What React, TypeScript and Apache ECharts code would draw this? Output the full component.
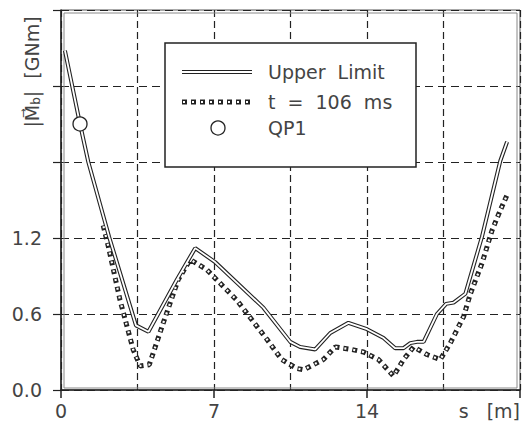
import React, { useEffect, useRef } from "react";
import * as echarts from "echarts";

// Upper limit curve (s in m, |Mb| in GNm)
const upperS = [0.18, 0.87, 1.25, 2.2, 3.43, 4.0, 5.3, 6.14, 7.05, 9.26, 10.49, 10.94, 11.63, 12.32, 13.15, 14.0, 14.76, 15.29, 15.67, 15.98, 16.29, 16.59, 17.2, 17.62, 17.96, 18.5, 19.26, 20.1, 20.41];
const upperM = [2.68, 2.1, 1.8, 1.21, 0.51, 0.46, 0.87, 1.12, 1.01, 0.65, 0.38, 0.34, 0.32, 0.45, 0.53, 0.48, 0.41, 0.33, 0.33, 0.37, 0.38, 0.38, 0.6, 0.68, 0.69, 0.76, 1.21, 1.81, 1.96];

// t = 106 ms curve
const t106S = [1.93, 2.17, 2.7, 3.3, 3.62, 4.04, 4.68, 5.36, 5.91, 6.67, 8.04, 9.42, 10.1, 10.79, 11.1, 12.0, 12.55, 13.3, 13.84, 14.53, 15.21, 15.67, 16.13, 16.74, 17.35, 17.81, 18.42, 18.73, 19.26, 19.72, 20.1, 20.41];
const t106M = [1.3, 1.13, 0.71, 0.32, 0.19, 0.2, 0.53, 0.87, 1.03, 0.95, 0.71, 0.4, 0.24, 0.17, 0.16, 0.24, 0.34, 0.32, 0.3, 0.24, 0.11, 0.24, 0.34, 0.28, 0.24, 0.37, 0.58, 0.76, 1.0, 1.26, 1.42, 1.54];

// QP1 point
const qp1S = [0.87];
const qp1M = [2.1];

const legendNames = ["Upper  Limit", "t  =  106  ms", "QP1"];
const xTickLabels = ["0", "7", "14"];
const yMax = 3.0;
const xMax = 21;

const INK = "#222";
const TXT = "#444";
const FONT = "DejaVu Sans";

export default function App() {
  const ref = useRef<HTMLDivElement>(null);
  useEffect(() => {
    if (!ref.current) return;
    const chart = echarts.init(ref.current, undefined, { renderer: "svg" });
    const upper = upperS.map((s, i) => [s, upperM[i]]);
    const t106 = t106S.map((s, i) => [s, t106M[i]]);
    const qp1 = qp1S.map((s, i) => [s, qp1M[i]]);
    const option: any = {
      animation: false,
      backgroundColor: "#fff",
      grid: { left: 61, right: 5, top: 10, bottom: 43, show: true, borderColor: "#555", borderWidth: 1 },
      xAxis: [
        {
          type: "value", min: 0, max: xMax, interval: 3.5,
          axisLine: { show: true, lineStyle: { color: INK, width: 1.5 } },
          axisTick: { show: false },
          axisLabel: { show: false },
          splitLine: { show: true, lineStyle: { color: INK, width: 1.2, type: [7, 4] } },
        },
        {
          type: "value", min: 0, max: xMax, interval: 7, position: "bottom",
          axisLine: { show: false },
          axisTick: { show: true, length: 8, lineStyle: { color: INK, width: 1.5 } },
          axisLabel: {
            margin: 11, fontSize: 19, fontFamily: FONT, color: TXT,
            formatter: (v: number) => (xTickLabels.includes(String(v)) ? String(v) : ""),
          },
          splitLine: { show: false },
        },
      ],
      yAxis: {
        type: "value", min: 0, max: yMax, interval: 0.6,
        axisLine: { show: true, lineStyle: { color: INK, width: 1.5 } },
        axisTick: { show: true, length: 8, lineStyle: { color: INK, width: 1.2 } },
        axisLabel: {
          margin: 19, fontSize: 19, fontFamily: FONT, color: TXT,
          formatter: (v: number) => (v <= 1.21 ? v.toFixed(1) : ""),
        },
        splitLine: { show: true, lineStyle: { color: INK, width: 1.2, type: [8, 5] } },
      },
      series: [
        {
          name: "Upper Limit", type: "line", data: upper, symbol: "none", z: 3,
          lineStyle: { color: INK, width: 4 },
        },
        {
          name: "Upper Limit inner", type: "line", data: upper, symbol: "none", z: 4,
          lineStyle: { color: "#fff", width: 1.8 },
        },
        {
          name: "t = 106 ms", type: "line", data: t106, symbol: "none", z: 3,
          lineStyle: { color: INK, width: 5, type: [5, 4], cap: "butt" },
        },
        {
          name: "t = 106 ms inner", type: "line", data: t106, symbol: "none", z: 4,
          lineStyle: { color: "#fff", width: 2.2, type: [2, 7], dashOffset: 7.5, cap: "butt" },
        },
        {
          name: "QP1", type: "scatter", data: qp1, symbol: "circle", symbolSize: 14, z: 6,
          itemStyle: { color: "#fff", borderColor: INK, borderWidth: 1.3, opacity: 1 },
        },
      ],
      graphic: [
        { type: "rect", silent: true, z: 1, shape: { x: 64, y: 13, width: 453, height: 375 }, style: { fill: "none", stroke: "#888", lineWidth: 1 } },
        { type: "rect", z: 100, shape: { x: 165, y: 43, width: 251, height: 124 }, style: { fill: "#fff", stroke: INK, lineWidth: 1.5 } },
        { type: "line", z: 101, shape: { x1: 182, y1: 72, x2: 252, y2: 72 }, style: { stroke: INK, lineWidth: 4 } },
        { type: "line", z: 102, shape: { x1: 182, y1: 72, x2: 252, y2: 72 }, style: { stroke: "#fff", lineWidth: 1.8 } },
        { type: "line", z: 101, shape: { x1: 182, y1: 102, x2: 252, y2: 102 }, style: { stroke: INK, lineWidth: 5, lineDash: [5, 4] } },
        { type: "line", z: 102, shape: { x1: 182, y1: 102, x2: 252, y2: 102 }, style: { stroke: "#fff", lineWidth: 2.2, lineDash: [2, 7], lineDashOffset: 7.5 } },
        { type: "circle", z: 101, shape: { cx: 218, cy: 128, r: 7 }, style: { fill: "#fff", stroke: INK, lineWidth: 1.3 } },
        { type: "text", z: 101, x: 268, y: 72, style: { text: legendNames[0], fontSize: 19, fontFamily: FONT, fill: TXT, verticalAlign: "middle" } },
        { type: "text", z: 101, x: 268, y: 102, style: { text: legendNames[1], fontSize: 19, fontFamily: FONT, fill: TXT, verticalAlign: "middle" } },
        { type: "text", z: 101, x: 268, y: 128, style: { text: legendNames[2], fontSize: 19, fontFamily: FONT, fill: TXT, verticalAlign: "middle" } },
        {
          type: "text", z: 101, x: 32, y: 72, rotation: Math.PI / 2,
          style: {
            text: "{n||M\u20D7}{s|b}{n||  [GNm]}",
            align: "center", verticalAlign: "middle", fill: TXT,
            rich: {
              n: { fontSize: 19, fontFamily: FONT, fill: TXT },
              s: { fontSize: 12, fontFamily: FONT, fill: TXT, padding: [8, 0, 0, 0] },
            },
          },
        },
        { type: "text", z: 101, x: 520, y: 411, style: { text: "s   [m]", fontSize: 19, fontFamily: FONT, fill: TXT, align: "right", verticalAlign: "middle" } },
      ],
    };
    chart.setOption(option);
    return () => chart.dispose();
  }, []);
  return <div ref={ref} style={{ position: "fixed", left: 0, top: 0, width: 525, height: 433 }} />;
}
